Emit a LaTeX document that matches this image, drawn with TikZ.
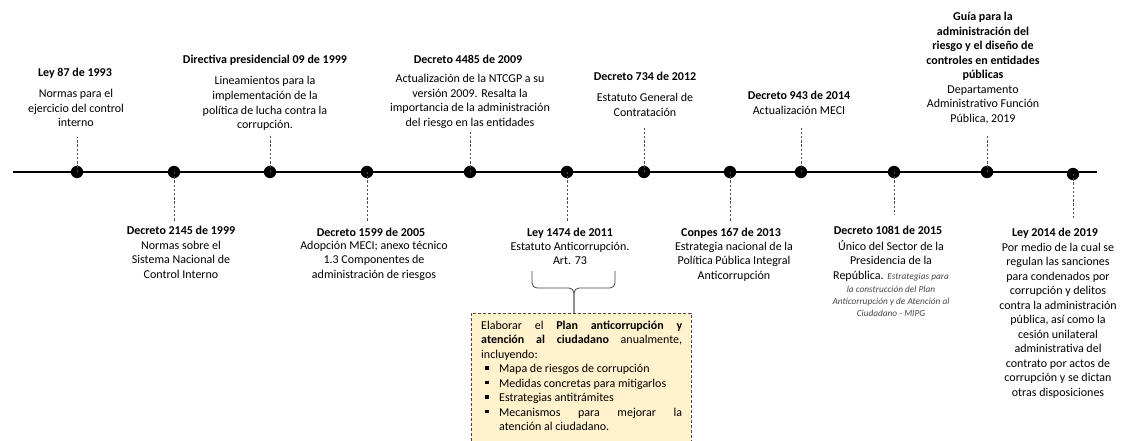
\documentclass[tikz,border=0pt]{standalone}
\usepackage{fontspec}
\setmainfont{Carlito}
\definecolor{notefill}{HTML}{FFF2CC}
\definecolor{guidegray}{HTML}{505050}
\definecolor{boxgray}{HTML}{4A4A4A}
\newcommand{\rowsc}[1]{\begin{tabular}[t]{@{}c@{}}#1\end{tabular}}
\newcommand{\bmark}{\hspace*{4pt}\rule[2.6pt]{3.8pt}{3.8pt}\hspace*{10.2pt}}
\newcommand{\bitem}[1]{\hbox to\hsize{\bmark#1\hfil}}
\begin{document}
\begin{tikzpicture}[x=1pt,y=-1pt,
  every node/.style={inner sep=0pt},
  txt/.style={anchor=base, font=\fontsize{12}{14.5}\selectfont},
  title/.style={anchor=base, font=\fontsize{12}{14.5}\selectfont\bfseries},
  small/.style={anchor=base, font=\fontsize{9.3}{12}\selectfont\itshape, text=black!72},
  dot/.style={circle, fill=black, minimum size=12.4pt, inner sep=0pt},
  guide/.style={draw=guidegray, line width=1pt, dash pattern=on 2.4pt off 1.8pt},
  axis/.style={draw=black, line width=1.2pt},
  brace/.style={draw=black!75, line width=0.8pt, rounded corners=5pt},
  notebox/.style={draw=boxgray, fill=notefill, line width=0.8pt,
    dash pattern=on 3pt off 2pt, anchor=north west,
    minimum width=220pt, minimum height=140pt},
]
\useasboundingbox (0,0) rectangle (1126,441);
\clip (0,0) rectangle (1126,441);

% time axis
\coordinate (axisL) at (13,172);
\coordinate (axisR) at (1097,172);
\draw[axis] (axisL) -- (axisR);

% events above the axis
\node[title] (t1) at (75,77) {Ley 87 de 1993};
\node[txt] (b1) at (76,98) {\rowsc{Normas para el\\ejercicio del control\\interno}};
\coordinate (e1) at (77,137);

\node[title] (t3) at (265,64) {Directiva presidencial 09 de 1999};
\node[txt] (b3) at (265,85) {\rowsc{Lineamientos para la\\implementación de la\\política de lucha contra la\\corrupción.}};
\coordinate (e3) at (270,135);

\node[title] (t5) at (468,64) {Decreto 4485 de 2009};
\node[txt] (b5) at (470,83) {\rowsc{Actualización de la NTCGP a su\\versión 2009. Resalta la\\importancia de la administración\\del riesgo en las entidades}};
\coordinate (e5) at (470,132);

\node[title] (t7) at (645,81) {Decreto 734 de 2012};
\node[txt] (b7) at (645,102) {\rowsc{Estatuto General de\\Contratación}};
\coordinate (e7) at (644,128);

\node[title] (t9) at (799,100) {Decreto 943 de 2014};
\node[txt] (b9) at (799,115) {Actualización MECI};
\coordinate (e9) at (801,128);

\node[txt] (b10) at (983,21) {\rowsc{\textbf{Guía para la}\\\textbf{administración del}\\\textbf{riesgo y el diseño de}\\\textbf{controles en entidades}\\\textbf{públicas}\\Departamento\\Administrativo Función\\Pública, 2019}};
\coordinate (e10) at (987,135);

% events below the axis
\node[title] (t2) at (181,234) {Decreto 2145 de 1999};
\node[txt] (b2) at (181,249) {\rowsc{Normas sobre el\\Sistema Nacional de\\Control Interno}};
\coordinate (e2) at (174,222);

\node[title] (t4) at (371,236) {Decreto 1599 de 2005};
\node[txt] (b4) at (374,249) {\rowsc{Adopción MECI; anexo técnico\\1.3 Componentes de\\administración de riesgos}};
\coordinate (e4) at (367,222);

\node[title] (t6) at (570,236) {Ley 1474 de 2011};
\node[txt] (b6) at (570,250) {\rowsc{Estatuto Anticorrupción.\\Art. 73}};
\coordinate (e6) at (567,222);

\node[title] (t8) at (731,236) {Conpes 167 de 2013};
\node[txt] (b8) at (734,250) {\rowsc{Estrategia nacional de la\\Política Pública Integral\\Anticorrupción}};
\coordinate (e8) at (730,222);

\node[title] (t11) at (888,234) {Decreto 1081 de 2015};
\node[txt] (b11) at (891,250) {\rowsc{Único del Sector de la\\Presidencia de la\\República. {\fontsize{9.3}{12}\selectfont\itshape\color{black!72}Estrategias para}}};
\node[small] (s11) at (891,292) {\rowsc{la construcción del Plan\\Anticorrupción y de Atención al\\Ciudadano - MIPG}};
\coordinate (e11) at (894,215);

\node[title] (t12) at (1055,236) {Ley 2014 de 2019};
\node[txt] (b12) at (1058,251) {\rowsc{Por medio de la cual se\\regulan las sanciones\\para condenados por\\corrupción y delitos\\contra la administración\\pública, así como la\\cesión unilateral\\administrativa del\\contrato por actos de\\corrupción y se dictan\\otras disposiciones}};
\coordinate (e12) at (1073,220);

% event markers on the axis
\foreach \n/\x/\y in {1/77/172, 2/174/172, 3/270/172, 4/367/172, 5/470/172, 6/567/172,
                      7/644/172, 8/730/172, 9/801/172, 11/894/172, 10/987/172, 12/1073/174}
  \node[dot] (d\n) at (\x,\y) {};

% dashed leaders from markers to their labels
\foreach \n in {1,3,5,7,9,10,2,4,6,8,11,12}
  \draw[guide] (d\n.center) -- (d\n |- e\n);

% note box with the brace pointing to it
\node[notebox] (plan) at (471,313) {};
\coordinate (braceL) at (532,271);
\coordinate (braceR) at (615,271);
\coordinate (braceM) at (574,288);
\draw[brace] (braceL) -- (braceL |- braceM) -- (braceM) -- (plan.north -| braceM);
\draw[brace] (braceR) -- (braceR |- braceM) -- (braceM) -- (plan.north -| braceM);

\node[anchor=base west, font=\fontsize{12}{14.5}\selectfont] (plantext) at (481,329)
  {\parbox[t]{201pt}{%
    \hbox to\hsize{Elaborar\hfill el\hfill\textbf{Plan}\hfill\textbf{anticorrupción}\hfill\textbf{y}}
    \hbox to\hsize{\textbf{atención}\hfill\textbf{al}\hfill\textbf{ciudadano}\hfill anualmente,}
    \hbox{incluyendo:}
    \bitem{Mapa de riesgos de corrupción}
    \bitem{Medidas concretas para mitigarlos}
    \bitem{Estrategias antitrámites}
    \hbox to\hsize{\bmark Mecanismos\hfill para\hfill mejorar\hfill la}
    \hbox to\hsize{\hspace*{18pt}atención al ciudadano.\hfil}}};
\end{tikzpicture}
\end{document}
